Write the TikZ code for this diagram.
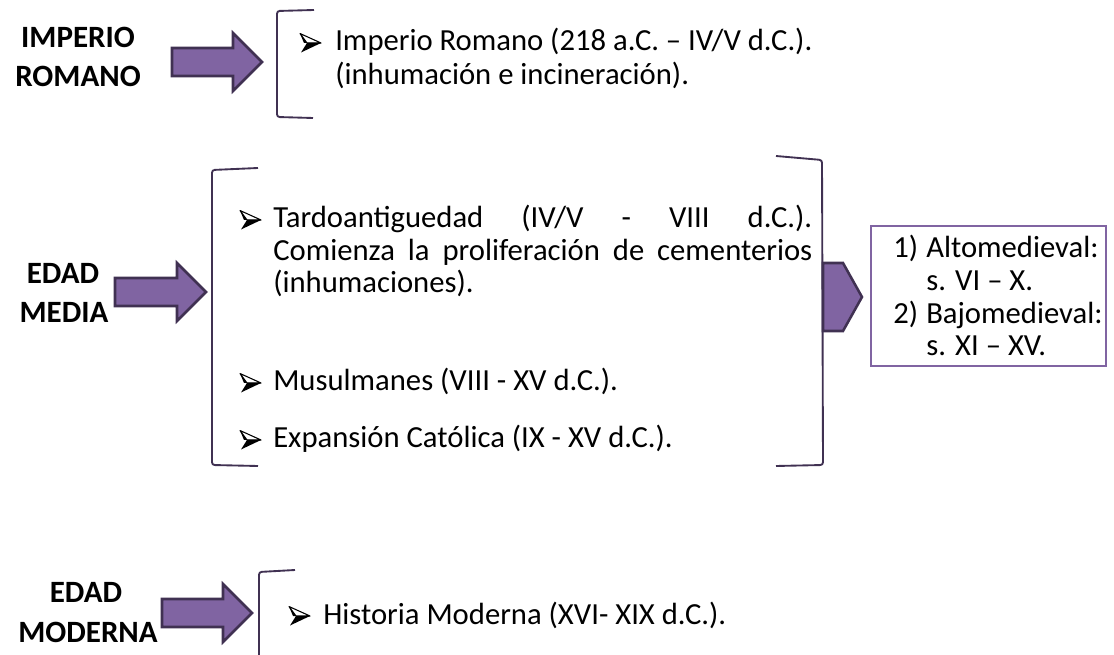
\documentclass[tikz,border=0pt]{standalone}
\usepackage{fontspec}
\setmainfont{Carlito}
\definecolor{purfill}{HTML}{8064A2}
\definecolor{purdark}{HTML}{403152}
\begin{document}
\begin{tikzpicture}[x=0.75pt,y=-0.75pt,
  lbl/.style={font=\fontsize{23.25}{29.25}\selectfont\bfseries, anchor=base, inner sep=0},
  txt/.style={font=\fontsize{23}{27}\selectfont, anchor=base west, inner sep=0},
  bigarrow/.style={fill=purfill, draw=purdark, line width=1.9pt, line join=miter},
  brk/.style={draw=purdark, line width=1.4pt, rounded corners=2pt},
  chev/.style={fill=purfill, draw=purdark, line width=1.9pt, line join=miter},
  infobox/.style={draw=purfill, line width=1.5pt},
  bularrow/.pic={
    \filldraw[fill=white, draw=black, line width=0.8pt, line join=round] (0,-9.5) -- (21,0) -- (7,0) -- cycle;
    \fill[black] (7,0) -- (21,0) -- (1,9.5) -- cycle;
    \fill[black] (0,-9.5) -- (7,0) -- (4,0) -- cycle;
  },
]
\useasboundingbox (0,0) rectangle (1114,655);

% ---------- Imperio Romano ----------
\node[lbl] (l1a) at (78,48) {IMPERIO};
\node[lbl] (l1b) at (78,87) {ROMANO};
\draw[bigarrow] (172,48) -- (233,48) -- (233,33) -- (262,62) -- (233,91) -- (233,76) -- (172,76) -- cycle;
\draw[brk] (314,10) -- (277,11) -- (277,117) -- (313,118);
\pic at (300,43) {bularrow};
\node[txt] (t1a) at (335,51) {Imperio Romano (218 a.C. – IV/V d.C.).};
\node[txt] (t1b) at (335,85) {(inhumación e incineración).};

% ---------- Edad Media ----------
\node[lbl] (l2a) at (63,284) {EDAD};
\node[lbl] (l2b) at (64,323) {MEDIA};
\draw[bigarrow] (115,278) -- (177,278) -- (177,263) -- (206,292) -- (177,321) -- (177,306) -- (115,306) -- cycle;
\draw[brk] (258,168) -- (212,170) -- (212,465) -- (258,466);
\draw[brk] (776,156) -- (822,160) -- (823,465) -- (776,466);
\pic at (240,220) {bularrow};
\node[txt] (t2a) at (273,228) {\makebox[404.25pt][s]{Tardoantiguedad (IV/V - VIII d.C.).}};
\node[txt] (t2b) at (273,261) {\makebox[404.25pt][s]{Comienza la proliferación de cementerios}};
\node[txt] (t2c) at (273,293) {(inhumaciones).};
\pic at (240,383) {bularrow};
\node[txt] (t2d) at (273,391) {Musulmanes (VIII - XV d.C.).};
\pic at (240,440) {bularrow};
\node[txt] (t2e) at (273,448) {Expansión Católica (IX - XV d.C.).};

\draw[chev] (823,263) -- (843,263) -- (862,297) -- (843,331) -- (823,331) -- cycle;
\draw[infobox] (871,226) rectangle (1106,366);
\node[txt] (n1) at (893,258) {1)};
\node[txt] (s1a) at (926,258) {Altomedieval:};
\node[txt] (s1b) at (926,291) {s. VI – X.};
\node[txt] (n2) at (893,324) {2)};
\node[txt] (s2a) at (926,324) {Bajomedieval:};
\node[txt] (s2b) at (926,356) {s. XI – XV.};

% ---------- Edad Moderna ----------
\node[lbl] (l3a) at (86,602) {EDAD};
\node[lbl] (l3b) at (88,642) {MODERNA};
\draw[bigarrow] (162,599) -- (223,599) -- (223,584) -- (252,613) -- (223,642) -- (223,627) -- (162,627) -- cycle;
\draw[brk] (295,570) -- (259,572) -- (259,660);
\pic at (289,616) {bularrow};
\node[txt] (t3) at (323,624) {Historia Moderna (XVI- XIX d.C.).};
\end{tikzpicture}
\end{document}
